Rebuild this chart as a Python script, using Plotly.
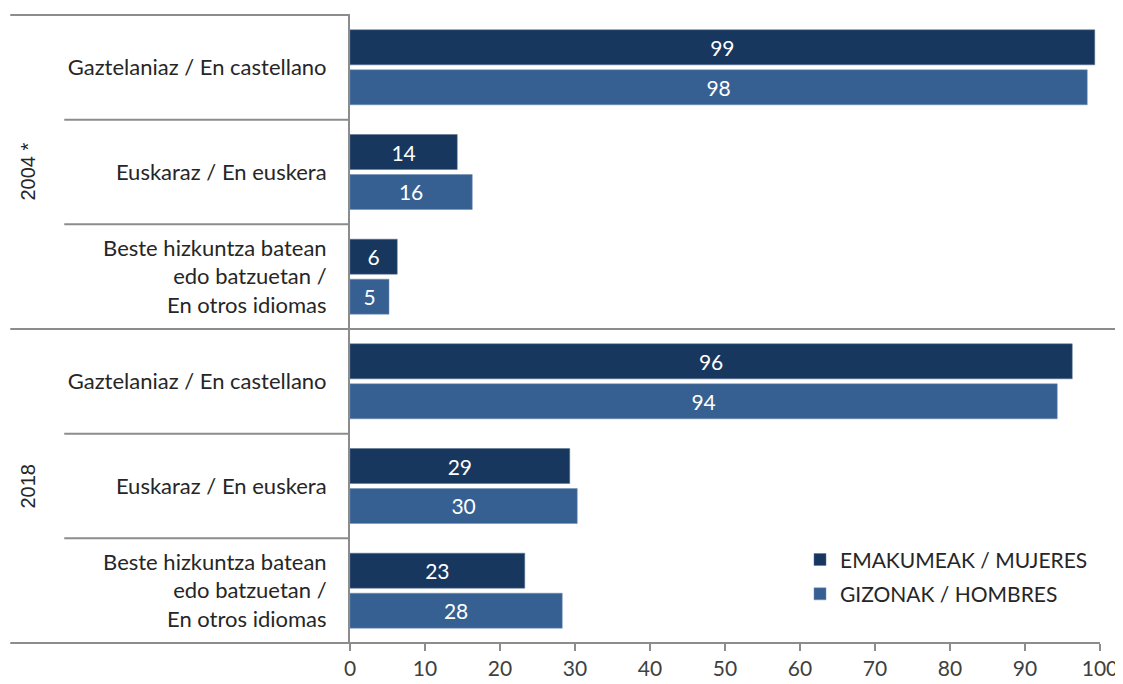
import plotly.graph_objects as go

# datos
years = ['2004 *', '2018']
langs = ['Gaztelaniaz / En castellano',
         'Euskaraz / En euskera',
         'Beste hizkuntza batean<br>edo batzuetan /<br>En otros idiomas']
emakumeak = [99.3, 14.3, 6.3, 96.3, 29.3, 23.3]   # EMAKUMEAK / MUJERES
gizonak = [98.3, 16.3, 5.2, 94.3, 30.3, 28.3]     # GIZONAK / HOMBRES
x_ticks = [0, 10, 20, 30, 40, 50, 60, 70, 80, 90, 100]

# id unik per kategori (tahun + bahasa)
cat_ids = [f'{y}|{i}' for y in years for i in range(len(langs))]
cat_text = [l for y in years for l in langs]

FONT = 'Lato'
FS = 21
GRAY = '#8c8c8c'

fig = go.Figure()
fig.add_trace(go.Bar(
    y=cat_ids, x=emakumeak, orientation='h', name='EMAKUMEAK / MUJERES',
    legendgroup='a',
    marker=dict(color='#17375E', line=dict(color='#5b7393', width=0.5)),
    texttemplate='%{x:.0f}', textposition='inside', insidetextanchor='middle',
    textfont=dict(color='white', size=FS, family=FONT),
))
fig.add_trace(go.Bar(
    y=cat_ids, x=gizonak, orientation='h', name='GIZONAK / HOMBRES',
    legendgroup='b',
    marker=dict(color='#376092', line=dict(color='#6d8db3', width=0.5)),
    texttemplate='%{x:.0f}', textposition='inside', insidetextanchor='middle',
    textfont=dict(color='white', size=FS, family=FONT),
))

n = len(cat_ids)
shapes = []
# garis pemisah kategori (kiri)
for k in range(1, n):
    if k == 3:
        continue
    shapes.append(dict(type='line', xref='paper', yref='paper',
                       x0=-0.381, x1=0, y0=1 - k / n, y1=1 - k / n,
                       line=dict(color=GRAY, width=2)))
# garis atas, tengah (antar tahun), bawah
shapes.append(dict(type='line', xref='paper', yref='paper', x0=-0.453, x1=0,
                   y0=1, y1=1, line=dict(color=GRAY, width=2)))
shapes.append(dict(type='line', xref='paper', yref='paper', x0=-0.453, x1=1.031,
                   y0=0.5, y1=0.5, line=dict(color=GRAY, width=2)))
shapes.append(dict(type='line', xref='paper', yref='paper', x0=-0.453, x1=1.0,
                   y0=0, y1=0, line=dict(color=GRAY, width=2)))

# label tahun (vertikal)
annotations = []
for j, y in enumerate(years):
    annotations.append(dict(
        x=-0.43, xref='paper', y=cat_ids[j * 3 + 1], yref='y',
        xanchor='center', yanchor='middle',
        text=y, textangle=-90, showarrow=False,
        font=dict(family='Liberation Sans', size=20, color='#262626'),
    ))

# halaman punya margin body 8px, jadi ukuran & margin dikompensasi
fig.update_layout(
    width=1115, height=676,
    margin=dict(l=342, r=23, t=7, b=41),
    barmode='group', bargap=0.236, bargroupgap=0.125,
    plot_bgcolor='white', paper_bgcolor='white',
    font=dict(family=FONT, size=FS, color='#262626'),
    showlegend=True,
    legend=dict(x=0.6, y=0.165, xanchor='left', yanchor='top',
                font=dict(size=FS, family=FONT, color='#262626'),
                itemwidth=30, tracegroupgap=4, bgcolor='rgba(0,0,0,0)'),
    shapes=shapes, annotations=annotations,
    uniformtext=dict(mode='show', minsize=10),
)
fig.update_xaxes(range=[0, 100], tickvals=x_ticks, showgrid=False, zeroline=False,
                 showline=False, ticks='outside', ticklen=7, tickwidth=2,
                 tickcolor=GRAY, automargin=False,
                 tickfont=dict(size=FS, color='#404040'))
fig.update_yaxes(categoryorder='array', categoryarray=cat_ids,
                 tickvals=cat_ids, ticktext=cat_text,
                 range=[n - 0.5, -0.5], showgrid=False, zeroline=False,
                 showline=True, linecolor=GRAY, linewidth=2, ticks='',
                 automargin=False, ticklabelstandoff=17,
                 tickfont=dict(size=22, color='#262626'))

fig.write_html("out.html")
